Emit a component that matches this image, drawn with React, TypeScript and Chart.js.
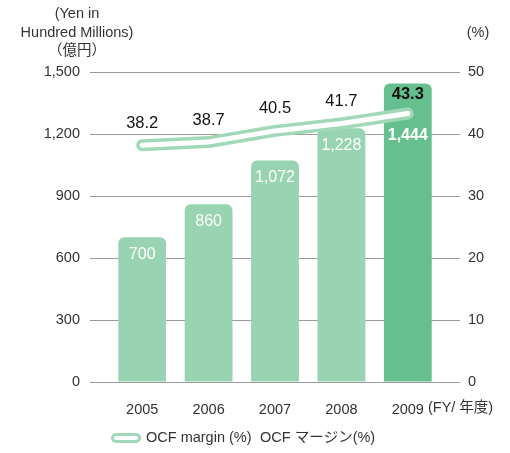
import React, { useEffect, useRef } from "react";
import { Chart, registerables } from "chart.js";

Chart.register(...registerables);

const categories = ["2005", "2006", "2007", "2008", "2009"];
const ocfValues = [700, 860, 1072, 1228, 1444];
const marginValues = [38.2, 38.7, 40.5, 41.7, 43.3];
const leftTicks = [0, 300, 600, 900, 1200, 1500];
const rightTicks = [0, 10, 20, 30, 40, 50];
const titleLines = ["(Yen in", "Hundred Millions)", "（億円）"];
const rightTitle = "(%)";
const fyLabel = " (FY/ 年度)";
const legendTexts = ["OCF margin (%)", "OCF マージン(%)"];

const LIGHT = "#98d4b2";
const DARK = "#66bf8e";
const LINE_GREEN = "#a0d8b8";
const TEXT = "#333333";
const GRID = "#9a9a9a";
const FONT = "'Liberation Sans', Arial, 'Noto Sans CJK JP', sans-serif";
const FS = 14.5;

const fmt = (v: number) => v.toLocaleString("en-US");

const labelPlugin = {
  id: "customLabels",
  afterDatasetsDraw(chart: any) {
    const ctx = chart.ctx;
    const barMeta = chart.getDatasetMeta(0);
    const lineMeta = chart.getDatasetMeta(1);
    ctx.save();
    ctx.textAlign = "center";
    ctx.textBaseline = "middle";
    barMeta.data.forEach((bar: any, i: number) => {
      const last = i === ocfValues.length - 1;
      const pt = lineMeta.data[i];
      const y = Math.max(bar.y + 17, pt.y + 22);
      ctx.fillStyle = "#ffffff";
      ctx.font = `${last ? "bold " : ""}16px ${FONT}`;
      ctx.fillText(fmt(ocfValues[i]), bar.x, y);
      ctx.fillStyle = "#111111";
      ctx.font = `${last ? "bold " : ""}16.5px ${FONT}`;
      ctx.fillText(marginValues[i].toFixed(1), pt.x, pt.y - (last ? 19 : 22));
    });
    ctx.restore();
  },
  afterDraw(chart: any) {
    const ctx = chart.ctx;
    ctx.save();
    ctx.fillStyle = TEXT;
    ctx.font = `${FS}px ${FONT}`;
    ctx.textBaseline = "middle";
    ctx.textAlign = "center";
    titleLines.forEach((t, i) => ctx.fillText(t, 77, 14 + i * 18.5));
    ctx.fillText(rightTitle, 478, 33);
    const xs = chart.scales.x;
    const lastX = xs.getPixelForValue(categories.length - 1);
    const w = ctx.measureText(categories[categories.length - 1]).width;
    ctx.textAlign = "left";
    ctx.fillText(fyLabel, lastX + w / 2, 408);
    const ly = 438;
    const lx0 = 116, lx1 = 136;
    ctx.lineCap = "round";
    ctx.beginPath();
    ctx.strokeStyle = LINE_GREEN;
    ctx.lineWidth = 10;
    ctx.moveTo(lx0, ly);
    ctx.lineTo(lx1, ly);
    ctx.stroke();
    ctx.beginPath();
    ctx.strokeStyle = "#ffffff";
    ctx.lineWidth = 4;
    ctx.moveTo(lx0, ly);
    ctx.lineTo(lx1, ly);
    ctx.stroke();
    ctx.fillStyle = TEXT;
    ctx.font = `${FS}px ${FONT}`;
    ctx.fillText(legendTexts[0], 146, ly);
    ctx.fillText(legendTexts[1], 260, ly);
    ctx.restore();
  },
};

export default function App() {
  const ref = useRef<HTMLCanvasElement>(null);
  useEffect(() => {
    if (!ref.current) return;
    const chart = new Chart(ref.current, {
      type: "bar",
      data: {
        labels: categories,
        datasets: [
          {
            type: "bar",
            data: ocfValues,
            backgroundColor: ocfValues.map((_, i) => (i === ocfValues.length - 1 ? DARK : LIGHT)),
            borderRadius: { topLeft: 6, topRight: 6, bottomLeft: 0, bottomRight: 0 },
            borderSkipped: false,
            categoryPercentage: 1,
            barPercentage: 0.72,
            yAxisID: "y",
            order: 3,
          } as any,
          {
            type: "line",
            data: marginValues,
            borderColor: LINE_GREEN,
            borderWidth: 12,
            borderCapStyle: "round",
            borderJoinStyle: "round",
            pointRadius: 0,
            tension: 0,
            yAxisID: "y1",
            order: 2,
          } as any,
          {
            type: "line",
            data: marginValues,
            borderColor: "#ffffff",
            borderWidth: 5,
            borderCapStyle: "round",
            borderJoinStyle: "round",
            pointRadius: 0,
            tension: 0,
            yAxisID: "y1",
            order: 1,
          } as any,
        ],
      },
      options: {
        responsive: false,
        animation: false,
        devicePixelRatio: 1,
        layout: { padding: { top: 72, left: 0, right: 0, bottom: 0 } },
        plugins: { legend: { display: false }, tooltip: { enabled: false } },
        scales: {
          x: {
            offset: true,
            grid: { display: false },
            border: { display: false },
            ticks: { color: TEXT, font: { size: FS, family: FONT }, padding: 11 },
            afterFit: (s: any) => { s.height = 71; },
          },
          y: {
            position: "left",
            min: 0,
            max: 1500,
            afterBuildTicks: (s: any) => { s.ticks = leftTicks.map((v) => ({ value: v })); },
            ticks: { color: TEXT, font: { size: FS, family: FONT }, padding: 10, callback: (v: any) => fmt(Number(v)) },
            grid: { color: GRID, lineWidth: 1, tickLength: 19, tickColor: GRID },
            border: { display: false },
            afterFit: (s: any) => { s.width = 109; },
          },
          y1: {
            position: "right",
            min: 0,
            max: 50,
            afterBuildTicks: (s: any) => { s.ticks = rightTicks.map((v) => ({ value: v })); },
            ticks: { color: TEXT, font: { size: FS, family: FONT }, padding: 8 },
            grid: { drawOnChartArea: false, color: GRID, tickLength: 19, tickColor: GRID },
            border: { display: false },
            afterFit: (s: any) => { s.width = 69; },
          },
        },
      },
      plugins: [labelPlugin],
    });
    return () => chart.destroy();
  }, []);
  return (
    <div style={{ position: "absolute", left: 0, top: 0, width: 510, height: 453, background: "#fff" }}>
      <canvas ref={ref} width={510} height={453} />
    </div>
  );
}
